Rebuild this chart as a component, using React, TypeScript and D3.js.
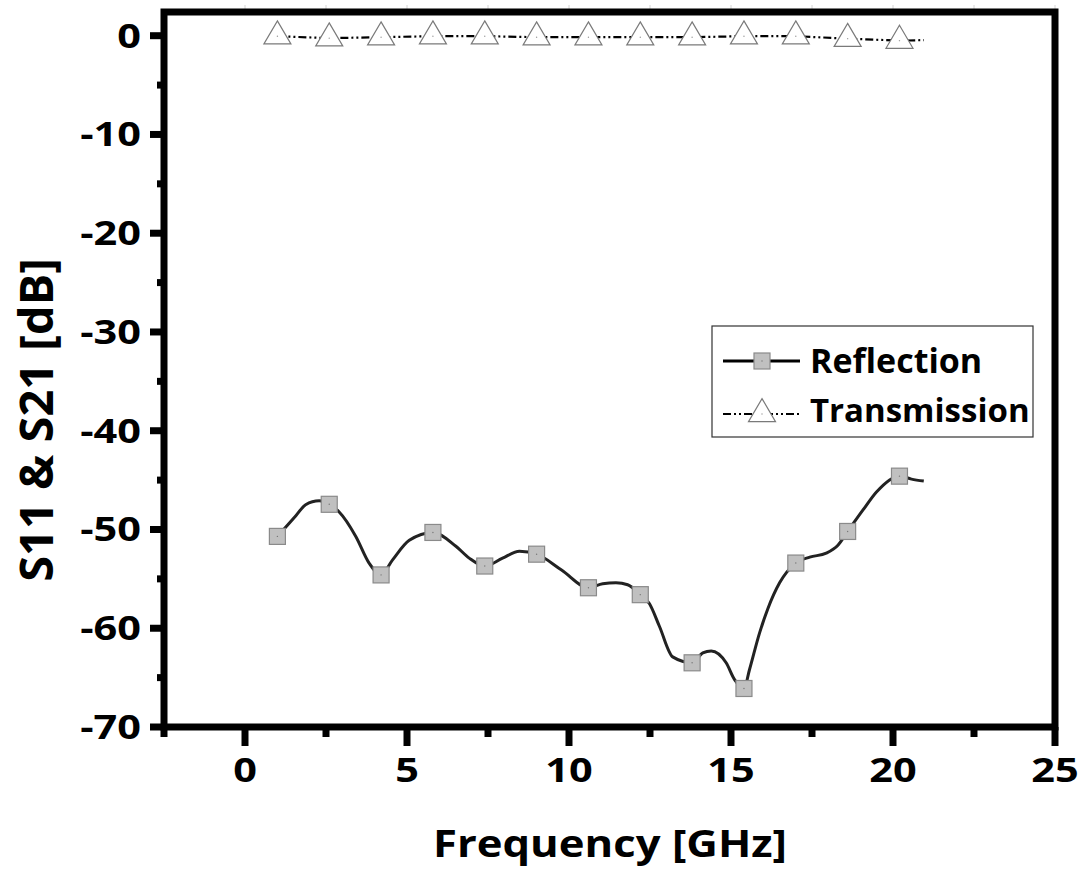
import * as d3 from 'd3';

// reflection (S11): smooth curve samples, markers every 1.6 GHz
const reflFreq = [
  1.0, 1.57, 1.87, 2.29, 2.6, 2.9, 3.42, 3.83, 4.2, 4.55, 5.07, 5.8, 6.51, 6.92, 7.4, 7.95, 8.47,
  9.0, 9.77, 10.6, 11.04, 11.45, 11.81, 12.2, 12.48, 12.79, 13.2, 13.8, 14.13, 14.39, 14.85, 15.11,
  15.4, 15.57, 15.88, 16.14, 16.5, 17.0, 17.43, 17.94, 18.3, 18.6, 19.08, 19.49, 20.2, 20.57, 20.95,
];
const reflDb = [
  -50.7, -48.6, -47.5, -47.1, -47.45, -48.2, -50.7, -53.4, -54.6, -53.1, -51.1, -50.3, -51.7, -52.9,
  -53.7, -52.9, -52.2, -52.5, -54.1, -55.9, -55.5, -55.4, -55.6, -56.6, -57.5, -59.8, -62.9, -63.5,
  -62.5, -62.3, -63.5, -65.2, -66.1, -64.2, -60.5, -58.0, -55.4, -53.4, -52.8, -52.4, -51.6, -50.2,
  -48.0, -46.2, -44.6, -44.9, -45.1,
];
const markerFreq = [1.0, 2.6, 4.2, 5.8, 7.4, 9.0, 10.6, 12.2, 13.8, 15.4, 17.0, 18.6, 20.2];

// transmission (S21)
const transFreq = [1.0, 2.6, 4.2, 5.8, 7.4, 9.0, 10.6, 12.2, 13.8, 15.4, 17.0, 18.6, 20.2, 20.95];
const transDb = [
  -0.05, -0.25, -0.15, -0.05, -0.05, -0.15, -0.15, -0.15, -0.15, -0.05, -0.05, -0.3, -0.5, -0.45,
];

const xMajorTicks = [0, 5, 10, 15, 20, 25];
const xMinorTicks = [-2.5, 2.5, 7.5, 12.5, 17.5, 22.5];
const yMajorTicks = [0, -10, -20, -30, -40, -50, -60, -70];
const yMinorTicks = [-5, -15, -25, -35, -45, -55, -65];

const W = 1085;
const H = 888;
const left = 164;
const right = 1055;
const top = 12;
const bottom = 727;

const FONT = "'Open Sans', 'Noto Sans', sans-serif";
const DASH_DOT_DOT = '8 3 2 3 2 3';

function Square({ x, y }: { x: number; y: number }) {
  return (
    <g>
      <rect x={x - 8} y={y - 8} width={16} height={16} fill="#c0c0c0" stroke="#8a8a8a" strokeWidth={1.2} />
      <circle cx={x} cy={y} r={0.7} fill="#777" />
    </g>
  );
}

function Triangle({ x, y }: { x: number; y: number }) {
  // data point sits at the centroid
  const h = 23;
  const w = 27;
  const apex = y - (2 * h) / 3;
  const base = y + h / 3;
  return (
    <g>
      <path
        d={`M${x},${apex} L${x + w / 2},${base} L${x - w / 2},${base} Z`}
        fill="#fff"
        stroke="#7a7a7a"
        strokeWidth={1.2}
      />
      <circle cx={x} cy={y} r={0.7} fill="#999" />
    </g>
  );
}

export default function App() {
  const x = d3.scaleLinear().domain([-2.5, 25]).range([left, right]);
  const y = d3.scaleLinear().domain([-70, 2.4]).range([bottom, top]);

  const refl = reflFreq.map((f, i) => [f, reflDb[i]] as [number, number]);
  const trans = transFreq.map((f, i) => [f, transDb[i]] as [number, number]);

  const smooth = d3
    .line<[number, number]>()
    .x((d) => x(d[0]))
    .y((d) => y(d[1]))
    .curve(d3.curveMonotoneX);
  const straight = d3
    .line<[number, number]>()
    .x((d) => x(d[0]))
    .y((d) => y(d[1]));

  const markers = refl.filter((d) => markerFreq.includes(d[0]));
  const triMarkers = trans.filter((d) => markerFreq.includes(d[0]));

  const tickStretch = 1.22;

  return (
    <svg
      width={W}
      height={H}
      style={{ position: 'absolute', left: 0, top: 0, background: '#fff' }}
      fontFamily={FONT}
      fontWeight="bold"
    >
      <rect width={W} height={H} fill="#fff" />

      {/* faint top ticks */}
      {d3.range(0, 25.01, 2.5).map((t) => (
        <line key={`tt${t}`} x1={x(t)} x2={x(t)} y1={5} y2={top} stroke="#d4d4d4" strokeWidth={1} />
      ))}

      {/* data */}
      <path d={straight(trans) || ''} fill="none" stroke="#000" strokeWidth={2.2} strokeDasharray={DASH_DOT_DOT} />
      <path d={smooth(refl) || ''} fill="none" stroke="#222" strokeWidth={3} />
      {markers.map((d) => (
        <Square key={`s${d[0]}`} x={x(d[0])} y={y(d[1])} />
      ))}
      {triMarkers.map((d) => (
        <Triangle key={`t${d[0]}`} x={x(d[0])} y={y(d[1])} />
      ))}

      {/* frame */}
      <rect x={left} y={top} width={right - left} height={bottom - top} fill="none" stroke="#000" strokeWidth={7} />

      {/* x ticks */}
      {xMajorTicks.map((t) => (
        <line key={`xM${t}`} x1={x(t)} x2={x(t)} y1={bottom} y2={746} stroke="#000" strokeWidth={7} />
      ))}
      {xMinorTicks.map((t) => (
        <line key={`xm${t}`} x1={x(t)} x2={x(t)} y1={bottom} y2={737} stroke="#000" strokeWidth={7} />
      ))}
      {xMajorTicks.map((t) => (
        <g key={`xl${t}`} transform={`translate(${x(t)},782) scale(${tickStretch},1)`}>
          <text textAnchor="middle" fontSize={34}>
            {t}
          </text>
        </g>
      ))}

      {/* y ticks */}
      {yMajorTicks.map((t) => (
        <line key={`yM${t}`} x1={150} x2={left} y1={y(t)} y2={y(t)} stroke="#000" strokeWidth={7} />
      ))}
      {yMinorTicks.map((t) => (
        <line key={`ym${t}`} x1={157} x2={left} y1={y(t)} y2={y(t)} stroke="#000" strokeWidth={7} />
      ))}
      {yMajorTicks.map((t) => (
        <g key={`yl${t}`} transform={`translate(141,${y(t) + 12}) scale(${tickStretch},1)`}>
          <text textAnchor="end" fontSize={34}>
            {t}
          </text>
        </g>
      ))}

      {/* axis titles */}
      <g transform="translate(610,857) scale(1.18,1)">
        <text textAnchor="middle" fontSize={37}>
          Frequency [GHz]
        </text>
      </g>
      <text transform="translate(53,420) rotate(-90)" textAnchor="middle" fontSize={47}>
        S11 &amp; S21 [dB]
      </text>

      {/* legend */}
      <rect x={712} y={326} width={321} height={111} fill="#fff" stroke="#333" strokeWidth={1.2} />
      <line x1={723} x2={800} y1={361} y2={361} stroke="#000" strokeWidth={2.8} />
      <Square x={762} y={361} />
      <text x={810} y={373} fontSize={34}>
        Reflection
      </text>
      <line x1={723} x2={800} y1={414} y2={414} stroke="#000" strokeWidth={2.2} strokeDasharray={DASH_DOT_DOT} />
      <Triangle x={762} y={414} />
      <text x={810} y={422} fontSize={33}>
        Transmission
      </text>
    </svg>
  );
}
